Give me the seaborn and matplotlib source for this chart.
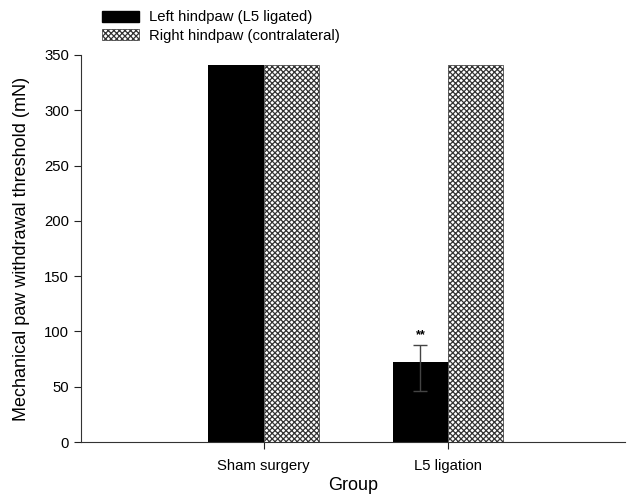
import pandas as pd
import numpy as np
import matplotlib
matplotlib.use('Agg')
import matplotlib.pyplot as plt
import matplotlib.patches as mpatches
import seaborn as sns

groups = ['Sham surgery', 'L5 ligation']
sides = ['Left hindpaw (L5 ligated)', 'Right hindpaw (contralateral)']
left_vals = [341, 72]
right_vals = [341, 341]
left_err_low = [0, 26]
left_err_high = [0, 16]

df = pd.DataFrame({
    'group': groups * 2,
    'side': [sides[0]] * 2 + [sides[1]] * 2,
    'value': left_vals + right_vals,
})

sns.set_style('ticks', {'text.color': 'black', 'axes.labelcolor': 'black',
                        'xtick.color': '#222222', 'ytick.color': '#222222'})
plt.rcParams['font.family'] = ['Liberation Sans', 'DejaVu Sans']
plt.rcParams['hatch.linewidth'] = 0.9

fig = plt.figure(figsize=(6.27, 4.95), dpi=100)
ax = fig.add_axes([0.129, 0.107, 0.868, 0.782])

sns.barplot(data=df, x='group', y='value', hue='side', order=groups, hue_order=sides,
            palette=['black', 'white'], width=0.6, errorbar=None, saturation=1,
            linewidth=0, ax=ax, legend=False)

# left bars are first, right bars second
bars = ax.patches
for p in bars[2:4]:
    p.set_hatch('xxxxxx')
    p.set_edgecolor('#333333')
    p.set_linewidth(0.5)

# error bar on ligated bar
lp = bars[1]
cx = lp.get_x() + lp.get_width() / 2
ax.errorbar([cx], [left_vals[1]], yerr=[[left_err_low[1]], [left_err_high[1]]],
            fmt='none', ecolor='#444444', elinewidth=1, capsize=5, capthick=1)
ax.text(cx, left_vals[1] + left_err_high[1] + 3, '**', ha='center', va='bottom',
        fontsize=9, fontweight='bold')

ax.set_xlim(-0.99, 1.96)
ax.set_ylim(0, 350)
ax.set_yticks(np.arange(0, 351, 50))
ax.tick_params(axis='both', direction='out', length=5, width=0.8, labelsize=10.7,
               labelcolor='black')
ax.tick_params(axis='x', pad=7)
ax.set_xlabel('Group', fontsize=13, labelpad=3)
ax.set_ylabel('Mechanical paw withdrawal threshold (mN)', fontsize=13)
ax.yaxis.set_label_coords(-0.094, 0.5)
sns.despine(ax=ax)
for s in ['left', 'bottom']:
    ax.spines[s].set_linewidth(0.8)
    ax.spines[s].set_color('#333333')

handles = [mpatches.Patch(facecolor='black', edgecolor='black', label=sides[0]),
           mpatches.Patch(facecolor='white', edgecolor='#333333', hatch='xxxxxx',
                          linewidth=0.5, label=sides[1])]
fig.legend(handles=handles, loc='upper left', bbox_to_anchor=(0.143, 1.003),
           frameon=False, fontsize=10.7, handlelength=2.5, handleheight=0.75,
           handletextpad=0.7, labelspacing=0.3, borderpad=0.3)

fig.savefig('out.png', dpi=100)
